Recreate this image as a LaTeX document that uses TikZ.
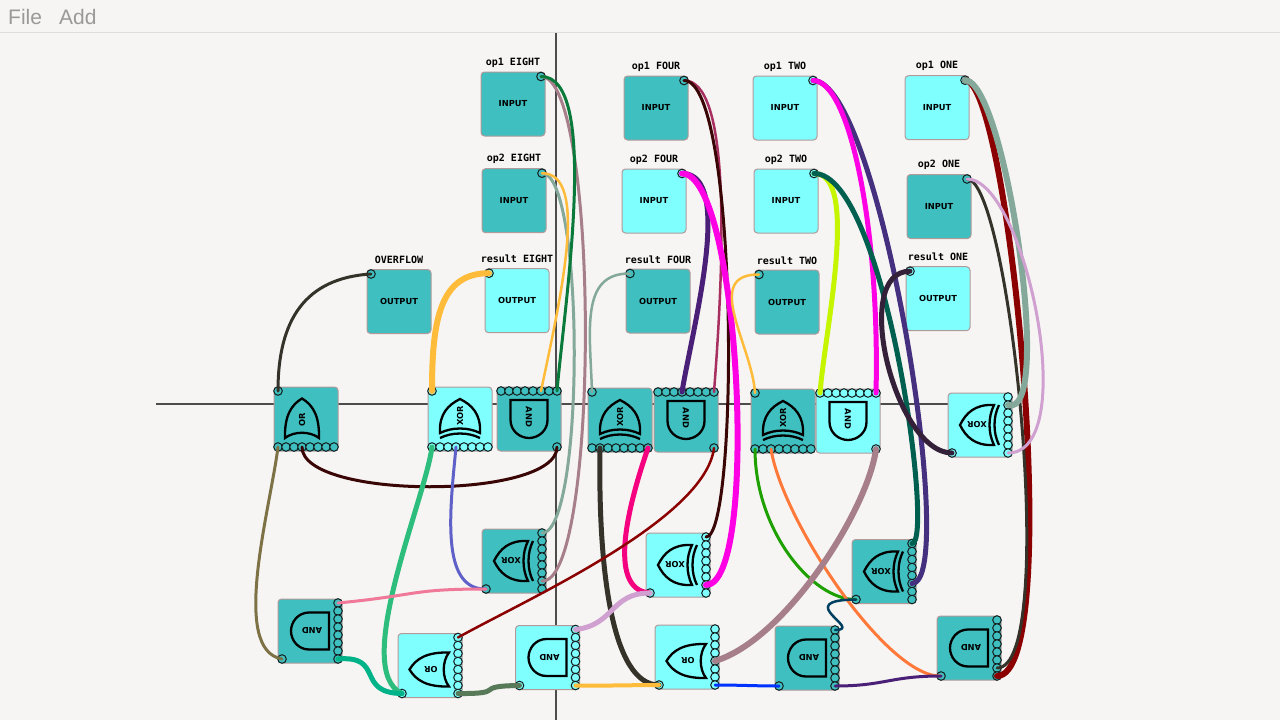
\documentclass[tikz,border=0pt]{standalone}
\usepackage{fontspec}
\setmainfont{Liberation Sans}
\newfontfamily\labelfont{DejaVu Sans Mono Bold}
\newfontfamily\gatefontb{DejaVu Sans Bold}
\newfontfamily\menufont{Liberation Sans}
\definecolor{bgc}{HTML}{F6F5F3}
\definecolor{teal}{HTML}{3FBFBF}
\definecolor{cya}{HTML}{80FFFF}
\definecolor{edgec}{HTML}{B09A9A}
\definecolor{pinl}{HTML}{142020}
\definecolor{wDark}{HTML}{35322A}
\definecolor{wOlive}{HTML}{7D7245}
\definecolor{wMaroon}{HTML}{3A0505}
\definecolor{wYellow}{HTML}{FFBB3A}
\definecolor{wMint}{HTML}{2DBD7D}
\definecolor{wBlueV}{HTML}{5F60C8}
\definecolor{wGreen}{HTML}{0A7A3A}
\definecolor{wMauve}{HTML}{A67F8A}
\definecolor{wSage}{HTML}{84A89A}
\definecolor{wPink}{HTML}{F5007F}
\definecolor{wPurple}{HTML}{4A1F78}
\definecolor{wRose}{HTML}{A83060}
\definecolor{wMag}{HTML}{FF00E5}
\definecolor{wRed}{HTML}{8B0000}
\definecolor{wLeaf}{HTML}{1EA000}
\definecolor{wOrange}{HTML}{FF7A3A}
\definecolor{wLime}{HTML}{C6F500}
\definecolor{wIndigo}{HTML}{45307F}
\definecolor{wTealD}{HTML}{006050}
\definecolor{wNavy}{HTML}{003F5F}
\definecolor{wBlue}{HTML}{0033FF}
\definecolor{wLilac}{HTML}{CFA0D0}
\definecolor{wJade}{HTML}{00B388}
\definecolor{wCoral}{HTML}{F07898}
\definecolor{wFern}{HTML}{587A58}
\definecolor{wPlum}{HTML}{35203A}
\tikzset{
  x=1pt,y=-1pt,
  boxst/.style={draw=edgec,line width=1pt,rounded corners=3.5pt},
  pinst/.style={circle,draw=pinl,line width=1pt,inner sep=0pt,minimum size=8.6pt},
  wire/.style={line cap=round,line join=round},
  symb/.style={draw=black,line width=2.3pt,line join=miter},
  gtext/.style={font=\gatefontb\fontsize{8.3}{10}\selectfont,text=black,inner sep=0pt},
  boxname/.style={font=\gatefontb\fontsize{8.3}{10}\selectfont,text=black,inner sep=0pt},
  toplabel/.style={font=\labelfont\fontsize{10}{10}\selectfont,text=black,inner sep=0pt},
  menuitem/.style={font=\menufont\fontsize{21}{21}\selectfont,text=black!40,inner sep=0pt,anchor=base west},
}
% #1 name #2 x #3 y #4 fill #5 facing: -90 up, 90 down, 180 left #6 kind
\newcommand{\makegate}[6]{%
  \node[boxst,fill=#4,minimum size=64pt,inner sep=0pt] (#1) at (#2+32,#3+32) {};
  \begin{scope}[shift={(#1.center)},rotate=-#5]
    \ifnum#6=0 % AND
      \draw[symb,rounded corners=0pt] (-19,-18.5) -- (-19,18.5) -- (1,18.5) .. controls (12,18.5) and (19,9) .. (19,0) .. controls (19,-9) and (12,-18.5) .. (1,-18.5) -- cycle;
      \node[gtext,rotate=-#5,anchor=center] (#1-t) at (-2,0) {AND};
    \fi
    \ifnum#6=1 % OR
      \draw[symb,rounded corners=0pt] (-19,-21) .. controls (3,-21.5) and (14,-15) .. (20.5,-4) .. controls (14,7) and (3,13.5) .. (-19,13) .. controls (-12,4) and (-12,-12) .. (-19,-21) -- cycle;
      \node[gtext,rotate=-#5,anchor=center] (#1-t) at (-1,-4) {OR};
    \fi
    \ifnum#6=2 % XOR
      \draw[symb,rounded corners=0pt] (-14,-20) .. controls (5,-21) and (14,-12) .. (20,0) .. controls (14,12) and (5,21) .. (-14,20) .. controls (-8,8) and (-8,-8) .. (-14,-20) -- cycle;
      \draw[symb] (-19,-20) .. controls (-13,-8) and (-13,8) .. (-19,20);
      \node[gtext,rotate=-#5,anchor=center] (#1-t) at (3,0) {XOR};
    \fi
  \end{scope}
  \ifnum#5=-90 % up: row at the bottom, lone pin top left
    \foreach \k in {0,...,7}{\node[pinst,fill=#4] (#1-\k) at (#2+4+8*\k,#3+60) {};}
    \node[pinst,fill=#4] (#1-in) at (#2+4,#3+4) {};
  \fi
  \ifnum#5=90 % down: row at the top, lone pin bottom right
    \foreach \k in {0,...,7}{\node[pinst,fill=#4] (#1-\k) at (#2+4+8*\k,#3+4) {};}
    \node[pinst,fill=#4] (#1-in) at (#2+60,#3+60) {};
  \fi
  \ifnum#5=180 % left: column at the right, lone pin bottom left
    \foreach \k in {0,...,7}{\node[pinst,fill=#4] (#1-\k) at (#2+60,#3+4+8*\k) {};}
    \node[pinst,fill=#4] (#1-in) at (#2+4,#3+60) {};
  \fi
}
% #1 name #2 x #3 y #4 fill #5 word #6 label #7 pin dx
\newcommand{\makeport}[7]{%
  \node[boxst,fill=#4,minimum size=64pt,inner sep=0pt] (#1) at (#2+32,#3+32) {};
  \node[boxname] (#1-w) at (#2+32,#3+32) {#5};
  \node[toplabel] (#1-l) at (#2+32,#3-9.5) {#6};
  \node[pinst,fill=#4] (#1-p) at (#2+#7,#3+4.5) {};
}
\newcommand{\wire}[6]{\draw[wire,draw=#1,line width=#2pt] (#3.center) .. controls (#4) and (#5) .. (#6.center);}
\begin{document}
\begin{tikzpicture}
\useasboundingbox (0,0) rectangle (1280,720);
\fill[bgc] (0,0) rectangle (1280,720);
\draw[black!13,line width=1pt] (0,32.5) -- (1280,32.5);
\node[menuitem] (mfile) at (8,24) {File};
\node[menuitem] (madd) at (59,24) {Add};
\coordinate (axT) at (556,33);
\coordinate (axB) at (556,720);
\coordinate (axL) at (156,404);
\coordinate (axR) at (950,404);
\draw[black!70,line width=1.1pt] (axT) -- (axB);
\draw[black!70,line width=1.1pt] (axL) -- (axR);
% ports
\makeport{opAe}{481}{72}{teal}{INPUT}{op1 EIGHT}{60}
\makeport{opBe}{482}{168.7}{teal}{INPUT}{op2 EIGHT}{60}
\makeport{rese}{485}{268.7}{cya}{OUTPUT}{result EIGHT}{4}
\makeport{over}{367}{269.5}{teal}{OUTPUT}{OVERFLOW}{4}
\makeport{opAf}{624}{76}{teal}{INPUT}{op1 FOUR}{60}
\makeport{opBf}{622}{169}{cya}{INPUT}{op2 FOUR}{60}
\makeport{resf}{626}{269}{teal}{OUTPUT}{result FOUR}{4}
\makeport{opAt}{753}{76}{cya}{INPUT}{op1 TWO}{60}
\makeport{opBt}{754}{169}{cya}{INPUT}{op2 TWO}{60}
\makeport{rest}{755}{270}{teal}{OUTPUT}{result TWO}{4}
\makeport{opAo}{905}{75.7}{cya}{INPUT}{op1 ONE}{60}
\makeport{opBo}{907}{174.5}{teal}{INPUT}{op2 ONE}{60}
\makeport{reso}{906}{266.7}{cya}{OUTPUT}{result ONE}{4}
% gates
\makegate{orA}{274}{387}{teal}{-90}{1}
\makegate{xorA}{428}{387}{cya}{-90}{2}
\makegate{andA}{497}{387}{teal}{90}{0}
\makegate{xorB}{588}{388}{teal}{-90}{2}
\makegate{andB}{654}{388}{teal}{90}{0}
\makegate{xorC}{751}{389}{teal}{-90}{2}
\makegate{andC}{816}{389}{cya}{90}{0}
\makegate{xorD}{948}{393}{cya}{180}{2}
\makegate{xorE}{482}{529}{teal}{180}{2}
\makegate{andD}{278}{599}{teal}{180}{0}
\makegate{orB}{398}{633.5}{cya}{180}{1}
\makegate{andE}{515.5}{625.5}{cya}{180}{0}
\makegate{xorF}{646}{533}{cya}{180}{2}
\makegate{orC}{655}{625}{cya}{180}{1}
\makegate{andF}{775}{626}{teal}{180}{0}
\makegate{xorG}{852}{539.5}{teal}{180}{2}
\makegate{andG}{937}{616}{teal}{180}{0}
% wires
\wire{wDark}{3}{over-p}{305,278}{278,320}{orA-in}
\wire{wOlive}{3}{orA-0}{270,510}{230,650}{andD-in}
\wire{wMaroon}{3}{orA-3}{302,500}{557,500}{andA-in}
\wire{wYellow}{6}{rese-p}{440,273}{432,320}{xorA-in}
\wire{wMint}{5}{xorA-0}{425,500}{351,670}{orB-in}
\wire{wBlueV}{3}{xorA-3}{450,510}{440,590}{xorE-in}
\wire{wMauve}{3}{opAe-p}{600,76}{600,585}{xorE-6}
\wire{wSage}{3}{opBe-p}{585,173}{585,533}{xorE-0}
\wire{wYellow}{2.5}{opBe-p}{590,173}{560,300}{andA-5}
\wire{wGreen}{3}{opAe-p}{600,76}{565,300}{andA-7}
\wire{wSage}{2.5}{resf-p}{580,273}{590,330}{xorB-in}
\wire{wDark}{5}{xorB-1}{598,570}{612,685}{orC-in}
\wire{wPink}{5}{xorB-7}{630,500}{605,590}{xorF-in}
\wire{wPurple}{5}{opBf-p}{735,173}{692,330}{andB-3}
\wire{wRose}{2.5}{opAf-p}{730,80}{725,250}{andB-7}
\wire{wMaroon}{3}{opAf-p}{739,80}{739,538}{xorF-0}
\wire{wMag}{6}{opBf-p}{740,173}{760,585}{xorF-6}
\wire{wRed}{2.5}{andB-in}{705,520}{525,600}{orB-0}
\wire{wYellow}{2.5}{rest-p}{702,274}{752,345}{xorC-in}
\wire{wLeaf}{3}{xorC-0}{755,530}{812,600}{xorG-in}
\wire{wOrange}{3}{xorC-2}{782,520}{887,678}{andG-in}
\wire{wMauve}{6}{andC-in}{868,510}{785,640}{orC-4}
\wire{wLime}{5}{opBt-p}{860,173}{825,330}{andC-0}
\wire{wIndigo}{5}{opAt-p}{880,80}{960,583}{xorG-5}
\wire{wMag}{5}{opAt-p}{850,80}{880,230}{andC-7}
\wire{wTealD}{5}{opBt-p}{885,173}{935,543}{xorG-0}
\wire{wNavy}{2.5}{andF-0}{865,630}{790,600}{xorG-in}
\wire{wYellow}{4}{andE-7}{600,686}{635,685}{orC-in}
\wire{wBlue}{3}{orC-7}{740,685}{755,686}{andF-in}
\wire{wPurple}{3}{andF-7}{885,686}{890,676}{andG-in}
\wire{wLilac}{5}{andE-0}{615,625}{610,593}{xorF-in}
\wire{wJade}{5}{andD-7}{385,655}{355,693}{orB-in}
\wire{wCoral}{3}{andD-0}{420,595}{410,589}{xorE-in}
\wire{wFern}{5}{orB-7}{510,694}{470,686}{andE-in}
\wire{wRed}{6}{opAo-p}{1010,80}{1066,676}{andG-7}
\wire{wDark}{3}{opBo-p}{1010,179}{1060,668}{andG-6}
\wire{wSage}{6}{opAo-p}{1005,80}{1055,420}{xorD-1}
\wire{wLilac}{3}{opBo-p}{1025,179}{1082,453}{xorD-7}
\wire{wPlum}{5}{reso-p}{850,271}{895,453}{xorD-in}
\end{tikzpicture}
\end{document}
